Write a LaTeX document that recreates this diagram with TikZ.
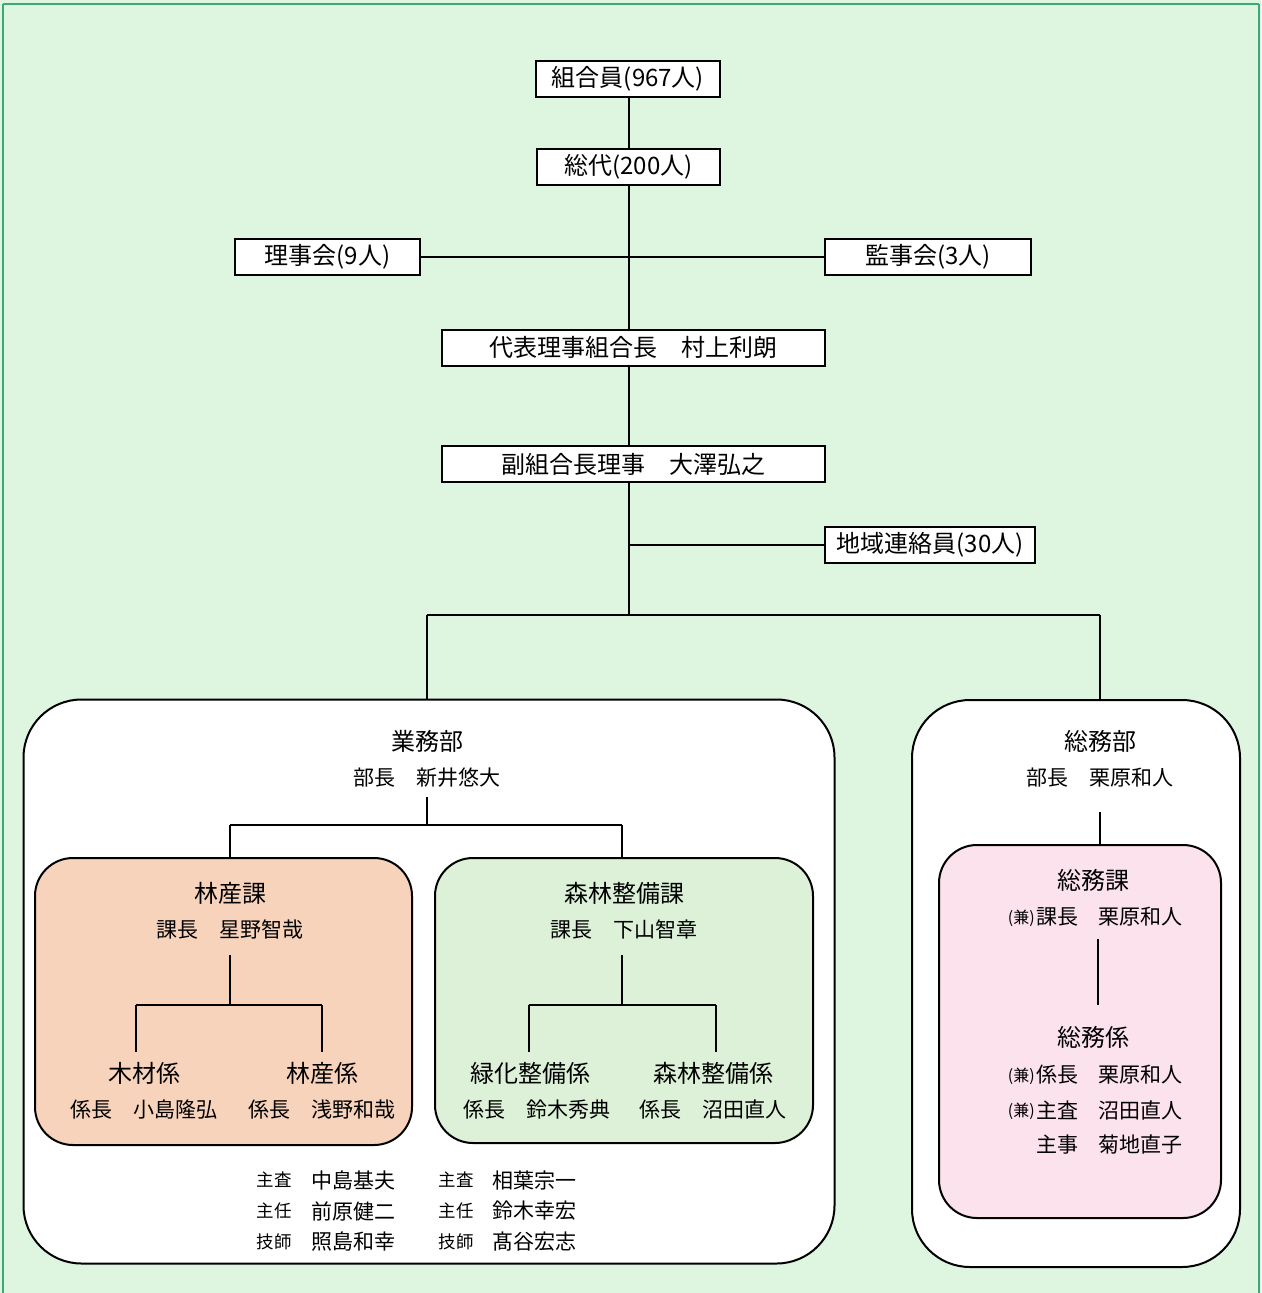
\documentclass[tikz,border=0pt]{standalone}
\usepackage{fontspec}
\setmainfont{Noto Sans CJK JP}
\newcommand\fbig{\fontsize{24}{28}\selectfont}
\newcommand\fmid{\fontsize{21}{25}\selectfont}
\newcommand\fsml{\fontsize{17.5}{20}\selectfont}
\newcommand\ftny{\fontsize{16}{18}\selectfont}
\definecolor{bggreen}{RGB}{222,245,224}
\definecolor{framegreen}{RGB}{60,170,120}
\definecolor{peach}{RGB}{248,211,188}
\definecolor{paleg}{RGB}{220,241,216}
\definecolor{pinkf}{RGB}{251,226,236}
\begin{document}
\begin{tikzpicture}[x=1pt,y=-1pt,
  orgbox/.style={draw=black, line width=2pt, fill=white, inner sep=0pt, minimum height=36pt, font=\fbig},
  deptbox/.style={draw=black, line width=2pt, fill=white, inner sep=0pt, rounded corners=58pt},
  sectbox/.style={draw=black, line width=2pt, inner sep=0pt, rounded corners=38pt},
  ttltext/.style={inner sep=0pt, font=\fbig},
  nmtext/.style={inner sep=0pt, font=\fmid},
  roletext/.style={inner sep=0pt, font=\fsml},
  kentext/.style={inner sep=0pt, font=\ftny, anchor=east},
  conn/.style={line width=2pt}
]
\useasboundingbox (0,0) rectangle (1261,1293);
\fill[bggreen] (0,0) rectangle (1261,1293);
\draw[framegreen, line width=2pt] (3,4) -- (1259,4);
\draw[framegreen, line width=2pt] (3,4) -- (3,1293);
\draw[framegreen, line width=2pt] (1259,4) -- (1259,1293);

% top boxes
\node[orgbox, minimum width=184pt] (kumiai) at (628,79) {組合員(967人)};
\node[orgbox, minimum width=183pt] (sodai) at (628.5,167) {総代(200人)};
\node[orgbox, minimum width=185pt] (riji) at (327.5,257) {理事会(9人)};
\node[orgbox, minimum width=206pt] (kanji) at (928,257) {監事会(3人)};
\node[orgbox, minimum width=383pt] (daihyo) at (633.5,347.5) {代表理事組合長　村上利朗};
\node[orgbox, minimum width=383pt] (fuku) at (633.5,464) {副組合長理事　大澤弘之};
\node[orgbox, minimum width=210pt] (chiiki) at (930,545) {地域連絡員(30人)};

\coordinate (j1) at (628.5,257);
\coordinate (j2) at (628.5,545);
\coordinate (j3) at (628.5,615);
\coordinate (jl) at (426.5,615);
\coordinate (jr) at (1100,615);

\draw[conn] (kumiai.south -| j1) -- (sodai.north -| j1);
\draw[conn] (sodai.south -| j1) -- (daihyo.north -| j1);
\draw[conn] (riji.east) -- (kanji.west);
\draw[conn] (daihyo.south -| j1) -- (fuku.north -| j1);
\draw[conn] (fuku.south -| j1) -- (j3);
\draw[conn] (j2) -- (chiiki.west);
\draw[conn] (jl) -- (jr);

% departments
\node[deptbox, minimum width=811pt, minimum height=564pt] (gyomu) at (429,981.5) {};
\node[deptbox, minimum width=328pt, minimum height=567pt] (somu) at (1076,983.5) {};
\draw[conn] (jl) -- (jl |- gyomu.north);
\draw[conn] (jr) -- (jr |- somu.north);

% gyomu
\node[ttltext] (gyomuT) at (427,741) {業務部};
\node[nmtext] (gyomuN) at (427,778) {部長　新井悠大};
\coordinate (g0) at (427,797);
\coordinate (g1) at (427,825);
\coordinate (gl) at (230,825);
\coordinate (gr) at (622,825);
\draw[conn] (g0) -- (g1);
\draw[conn] (gl) -- (gr);

\node[sectbox, fill=peach, minimum width=377pt, minimum height=287pt] (rinsan) at (223.5,1001.5) {};
\node[sectbox, fill=paleg, minimum width=378pt, minimum height=285pt] (shinrin) at (624,1000.5) {};
\draw[conn] (gl) -- (gl |- rinsan.north);
\draw[conn] (gr) -- (gr |- shinrin.north);

\node[ttltext] (rinsanT) at (230,893) {林産課};
\node[nmtext] (rinsanN) at (230,930) {課長　星野智哉};
\draw[conn] (230,955) -- (230,1005);
\draw[conn] (136,1005) -- (322,1005);
\draw[conn] (136,1005) -- (136,1052);
\draw[conn] (322,1005) -- (322,1052);
\node[ttltext] (mokuzai) at (144,1073) {木材係};
\node[nmtext] (mokuzaiN) at (144,1110) {係長　小島隆弘};
\node[ttltext] (rinsanK) at (322,1073) {林産係};
\node[nmtext] (rinsanKN) at (322,1110) {係長　浅野和哉};

\node[ttltext] (shinrinT) at (624,893) {森林整備課};
\node[nmtext] (shinrinN) at (624,930) {課長　下山智章};
\draw[conn] (622,955) -- (622,1005);
\draw[conn] (529,1005) -- (716,1005);
\draw[conn] (529,1005) -- (529,1052);
\draw[conn] (716,1005) -- (716,1052);
\node[ttltext] (ryokka) at (530,1073) {緑化整備係};
\node[nmtext] (ryokkaN) at (537,1110) {係長　鈴木秀典};
\node[ttltext] (shinrinK) at (713,1073) {森林整備係};
\node[nmtext] (shinrinKN) at (713,1110) {係長　沼田直人};

% staff
\node[roletext] (s1) at (274,1180) {主査};
\node[nmtext] (s1n) at (353,1180) {中島基夫};
\node[roletext] (s2) at (274,1211) {主任};
\node[nmtext] (s2n) at (353,1211) {前原健二};
\node[roletext] (s3) at (274,1242) {技師};
\node[nmtext] (s3n) at (353,1242) {照島和幸};
\node[roletext] (t1) at (456,1180) {主査};
\node[nmtext] (t1n) at (534,1180) {相葉宗一};
\node[roletext] (t2) at (456,1211) {主任};
\node[nmtext] (t2n) at (534,1211) {鈴木幸宏};
\node[roletext] (t3) at (456,1242) {技師};
\node[nmtext] (t3n) at (534,1242) {髙谷宏志};

% somu
\node[ttltext] (somuT) at (1100,741) {総務部};
\node[nmtext] (somuN) at (1100,778) {部長　栗原和人};
\node[sectbox, fill=pinkf, minimum width=282pt, minimum height=373pt] (somuka) at (1080,1031.5) {};
\coordinate (sm0) at (1100,812);
\draw[conn] (sm0) -- (sm0 |- somuka.north);
\node[ttltext] (somukaT) at (1093,880) {総務課};
\node[nmtext, anchor=west] (r1) at (1036,917) {課長};
\node[kentext] (k1) at (1035,918) {(兼)};
\node[nmtext, anchor=west] (n1) at (1098,917) {栗原和人};
\draw[conn] (1098,939) -- (1098,1005);
\node[ttltext] (somukakariT) at (1093,1037) {総務係};
\node[nmtext, anchor=west] (r2) at (1036,1075) {係長};
\node[kentext] (k2) at (1035,1076) {(兼)};
\node[nmtext, anchor=west] (n2) at (1098,1075) {栗原和人};
\node[nmtext, anchor=west] (r3) at (1036,1110) {主査};
\node[kentext] (k3) at (1035,1111) {(兼)};
\node[nmtext, anchor=west] (n3) at (1098,1110) {沼田直人};
\node[nmtext, anchor=west] (r4) at (1036,1145) {主事};
\node[nmtext, anchor=west] (n4) at (1098,1145) {菊地直子};
\end{tikzpicture}
\end{document}
